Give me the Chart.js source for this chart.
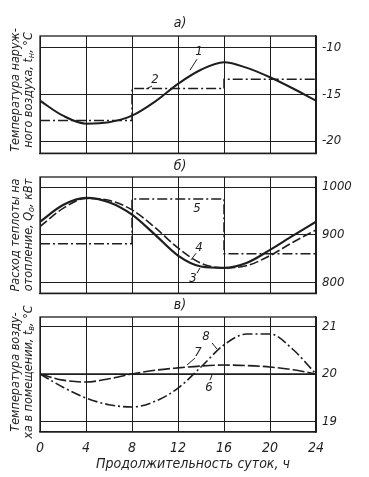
<!DOCTYPE html>
<html>
<head>
<meta charset="utf-8">
<script src="https://cdn.jsdelivr.net/npm/chart.js@4.4.1/dist/chart.umd.min.js"></script>
<style>
  body { margin: 0; background: #fff; width: 369px; height: 477px; position: relative; overflow: hidden;
         font-family: "Liberation Sans Narrow", "DejaVu Sans Condensed", "DejaVu Sans", sans-serif;
         font-style: italic; color: #1e1e1e; }
  canvas { position: absolute; left: 0; }
  .txt { position: absolute; white-space: nowrap; transform: translate(-50%, -50%); }
  .ytitle { position: absolute; white-space: nowrap; text-align: center; font-size: 12.5px; line-height: 13px;
            transform: translate(-50%, -50%) rotate(-90deg); }
  sub { font-size: 9px; vertical-align: -2px; }
</style>
</head>
<body>
<canvas id="chartA" width="369" height="145" style="top:22px"></canvas>
<canvas id="chartB" width="369" height="144" style="top:163px"></canvas>
<canvas id="chartC" width="369" height="153" style="top:303px"></canvas>

<div class="txt" style="left:180px; top:22px; font-size:14px">а)</div>
<div class="txt" style="left:180px; top:165px; font-size:14px">б)</div>
<div class="txt" style="left:180px; top:304px; font-size:14px">в)</div>

<div class="ytitle" style="left:23px; top:90px">Температура наруж-<br>ного воздуха, t<sub>н</sub>, °С</div>
<div class="ytitle" style="left:23px; top:235px">Расход теплоты на<br>отопление, Q<sub>о</sub>, кВт</div>
<div class="ytitle" style="left:23px; top:372px">Температура возду-<br>ха в помещении, t<sub>в</sub>, °С</div>

<div class="txt" style="left:193px; top:463px; font-size:14px">Продолжительность суток, ч</div>

<script>
// hours of the day
const hours = [0, 2, 4, 6, 8, 10, 12, 14, 16, 18, 20, 22, 24];
const stepHours = [0, 8, 16, 24];

// a) outdoor air temperature, °C
const outdoorTemp = [-15.7, -17.3, -18.15, -18.0, -17.3, -15.8, -13.9, -12.4, -11.6, -12.2, -13.2, -14.4, -15.7];
const outdoorStep = [-17.8, -14.4, -13.4, -13.4];
const ticksA = [-20, -15, -10];

// b) heat consumption for heating, kW
const heatActual = [927, 962, 977, 968, 942, 900, 856, 833, 830, 841, 868, 898, 927];
const heatCalc = [917, 955, 976, 972, 952, 915, 872, 840, 830, 835, 856, 884, 910];
const heatStep = [881, 975, 860, 860];
const ticksB = [800, 900, 1000];

// c) indoor air temperature, °C
const indoorConst = [20, 20, 20, 20, 20, 20, 20, 20, 20, 20, 20, 20, 20];
const indoorSmooth = [20, 19.87, 19.83, 19.9, 20.0, 20.08, 20.13, 20.17, 20.19, 20.18, 20.15, 20.09, 20.0];
const indoorStep = [20, 19.72, 19.49, 19.35, 19.3, 19.42, 19.7, 20.15, 20.62, 20.85, 20.85, 20.52, 20.0];
const ticksC = [19, 20, 21];

const ink = '#1e1e1e';
const font = '"Liberation Sans Narrow", "DejaVu Sans Condensed", "DejaVu Sans", sans-serif';

// curve numbers with their short leader lines (in data units)
const marksA = [
    { n: '1', at: [13.83, -10.5], from: [13.65, -11.28], to: [13.04, -12.45] },
    { n: '2', at: [10.0, -13.5], from: [9.74, -14.15], to: [9.22, -14.45] }
];
const marksB = [
    { n: '5', at: [13.65, 954] },
    { n: '4', at: [13.83, 872], from: [13.57, 861], to: [13.13, 847] },
    { n: '3', at: [13.3, 808], from: [13.65, 819], to: [13.91, 830] }
];
const marksC = [
    { n: '8', at: [14.43, 20.79], from: [14.96, 20.66], to: [15.39, 20.53] },
    { n: '7', at: [13.74, 20.45], from: [13.48, 20.34], to: [12.78, 20.19] },
    { n: '6', at: [14.7, 19.72], from: [14.78, 19.87], to: [14.96, 19.98] }
];

// frame around the plot area plus curve numbers
const framePlugin = {
    id: 'frame',
    afterDatasetsDraw(chart, args, opts) {
        const { ctx, chartArea: a, scales } = chart;
        ctx.save();
        ctx.strokeStyle = ink;
        ctx.lineWidth = 1.3;
        ctx.strokeRect(a.left, a.top, a.right - a.left, a.bottom - a.top);
        ctx.fillStyle = ink;
        ctx.font = 'italic 13px ' + font;
        ctx.textAlign = 'center';
        ctx.textBaseline = 'middle';
        ctx.lineWidth = 1;
        (opts.marks || []).forEach(m => {
            ctx.fillText(m.n, scales.x.getPixelForValue(m.at[0]), scales.y.getPixelForValue(m.at[1]));
            if (m.from) {
                ctx.beginPath();
                ctx.moveTo(scales.x.getPixelForValue(m.from[0]), scales.y.getPixelForValue(m.from[1]));
                ctx.lineTo(scales.x.getPixelForValue(m.to[0]), scales.y.getPixelForValue(m.to[1]));
                ctx.stroke();
            }
        });
        ctx.restore();
    }
};

function line(xs, ys, dash, width, stepped) {
    return {
        data: xs.map((x, i) => ({ x: x, y: ys[i] })),
        borderColor: ink,
        borderWidth: width,
        borderDash: dash,
        pointRadius: 0,
        fill: false,
        stepped: stepped || false,
        cubicInterpolationMode: 'monotone'
    };
}

function makePanel(id, datasets, yMin, yMax, yTicks, marks, showX) {
    return new Chart(document.getElementById(id), {
        type: 'line',
        data: { datasets: datasets },
        plugins: [framePlugin],
        options: {
            responsive: false,
            animation: false,
            devicePixelRatio: 1,
            layout: { padding: { left: 40, top: 14, right: 0, bottom: showX ? 0 : 4 } },
            plugins: { legend: { display: false }, tooltip: { enabled: false }, frame: { marks: marks } },
            scales: {
                x: {
                    type: 'linear', min: 0, max: 24,
                    ticks: { display: showX, stepSize: 4, color: ink, padding: 8,
                             font: { family: font, size: 14, style: 'italic' } },
                    grid: { color: ink, lineWidth: 1, drawTicks: false },
                    border: { color: ink, width: 1.3 },
                    afterFit: s => { s.height = showX ? 24 : 0; }
                },
                y: {
                    position: 'right', min: yMin, max: yMax,
                    afterBuildTicks: s => { s.ticks = yTicks.map(v => ({ value: v })); },
                    ticks: { color: ink, padding: 6, font: { family: font, size: 13, style: 'italic' },
                             callback: v => String(v) },
                    grid: { color: ink, lineWidth: 1, drawTicks: false },
                    border: { color: ink, width: 1.3 },
                    afterFit: s => { s.width = 53; }
                }
            }
        }
    });
}

makePanel('chartA', [
    line(hours, outdoorTemp, [], 2),
    line(stepHours, outdoorStep, [10, 3, 2, 3], 1.5, 'before')
], -21.3, -8.8, ticksA, marksA, false);

makePanel('chartB', [
    line(hours, heatActual, [], 2.2),
    line(hours, heatCalc, [9, 3], 1.6),
    line(stepHours, heatStep, [10, 3, 2, 3], 1.5, 'before')
], 777, 1021, ticksB, marksB, false);

makePanel('chartC', [
    line(hours, indoorConst, [], 1.6),
    line(hours, indoorSmooth, [12, 3], 1.6),
    line(hours, indoorStep, [10, 3, 2, 3], 1.6)
], 18.77, 21.21, ticksC, marksC, true);
</script>
</body>
</html>
